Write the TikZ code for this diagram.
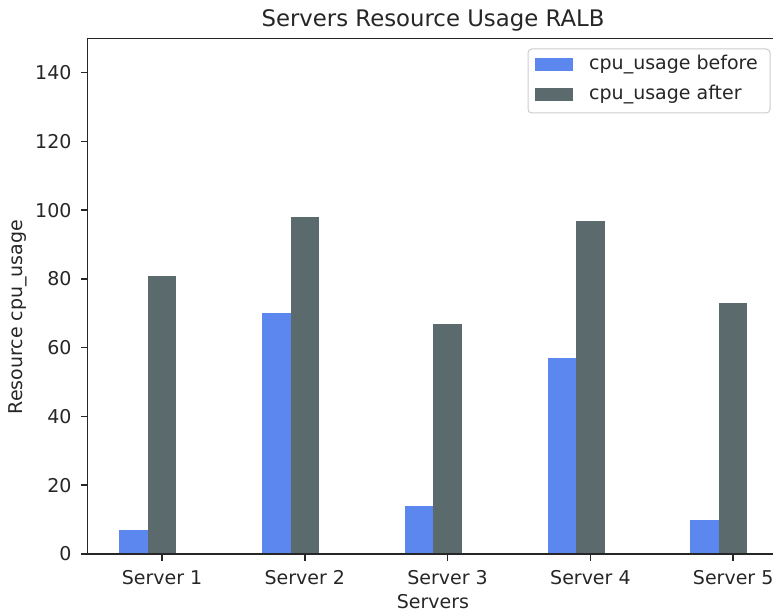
\documentclass[tikz,border=0pt]{standalone}
\usepackage{fontspec}
\setmainfont{DejaVu Sans}
\usepackage{xcolor}
\definecolor{cpubefore}{HTML}{5B87EE}
\definecolor{cpuafter}{HTML}{5B6A6C}
\definecolor{legendedge}{HTML}{CCCCCC}
\definecolor{spine}{HTML}{262626}

\begin{document}
\begin{tikzpicture}[x=1pt, y=1pt,
        txt/.style={inner sep=0pt, font=\fontsize{19}{19}\selectfont, text=black!85},
        axisline/.style={spine, line width=1.5pt}]
        \clip (0,0) rectangle (773,613);

        \node[txt, font=\fontsize{22.8}{22.8}\selectfont, anchor=base] (title) at (433,586.5) {Servers Resource Usage RALB};
        \node[txt, anchor=base] (xlab) at (433,5) {Servers};
        \node[txt, anchor=base, rotate=90] (ylab) at (22,296) {Resource cpu\_usage};

        \begin{scope}[shift={(162,59)}, x=142.8pt, y=3.438pt]
        \fill[cpubefore] (-0.3, 0) rectangle (-0.1, 7);
        \fill[cpuafter]  (-0.1, 0) rectangle ( 0.1, 81);
        \fill[cpubefore] ( 0.7, 0) rectangle ( 0.9, 70);
        \fill[cpuafter]  ( 0.9, 0) rectangle ( 1.1, 98);
        \fill[cpubefore] ( 1.7, 0) rectangle ( 1.9, 14);
        \fill[cpuafter]  ( 1.9, 0) rectangle ( 2.1, 67);
        \fill[cpubefore] ( 2.7, 0) rectangle ( 2.9, 57);
        \fill[cpuafter]  ( 2.9, 0) rectangle ( 3.1, 97);
        \fill[cpubefore] ( 3.7, 0) rectangle ( 3.9, 10);
        \fill[cpuafter]  ( 3.9, 0) rectangle ( 4.1, 73);

        \draw[axisline] (-0.52, 0) rectangle (4.32, 150);

        \foreach \s in {1,...,5}
            \draw[axisline] (\s-1, 0) -- ++(0,-7pt) node[txt, below=8.2pt] (server\s) {Server \s};
        \foreach \v in {0,20,...,140}
            \draw[axisline] (-0.52, \v) -- ++(-7pt,0) node[txt, left=8.5pt] (tick\v) {\v};
        \end{scope}

        \draw[legendedge, fill=white, fill opacity=0.8, line width=1pt, rounded corners=3.8pt] (528,500) rectangle (770,564);
        \fill[cpubefore] (535,542) rectangle (573,555.3);
        \fill[cpuafter]  (535,512) rectangle (573,525.3);
        \node[txt, anchor=west] (legbefore) at (589,548.6) {cpu\_usage before};
        \node[txt, anchor=west] (legafter)  at (589,518.6) {cpu\_usage after};
    \end{tikzpicture}
\end{document}
